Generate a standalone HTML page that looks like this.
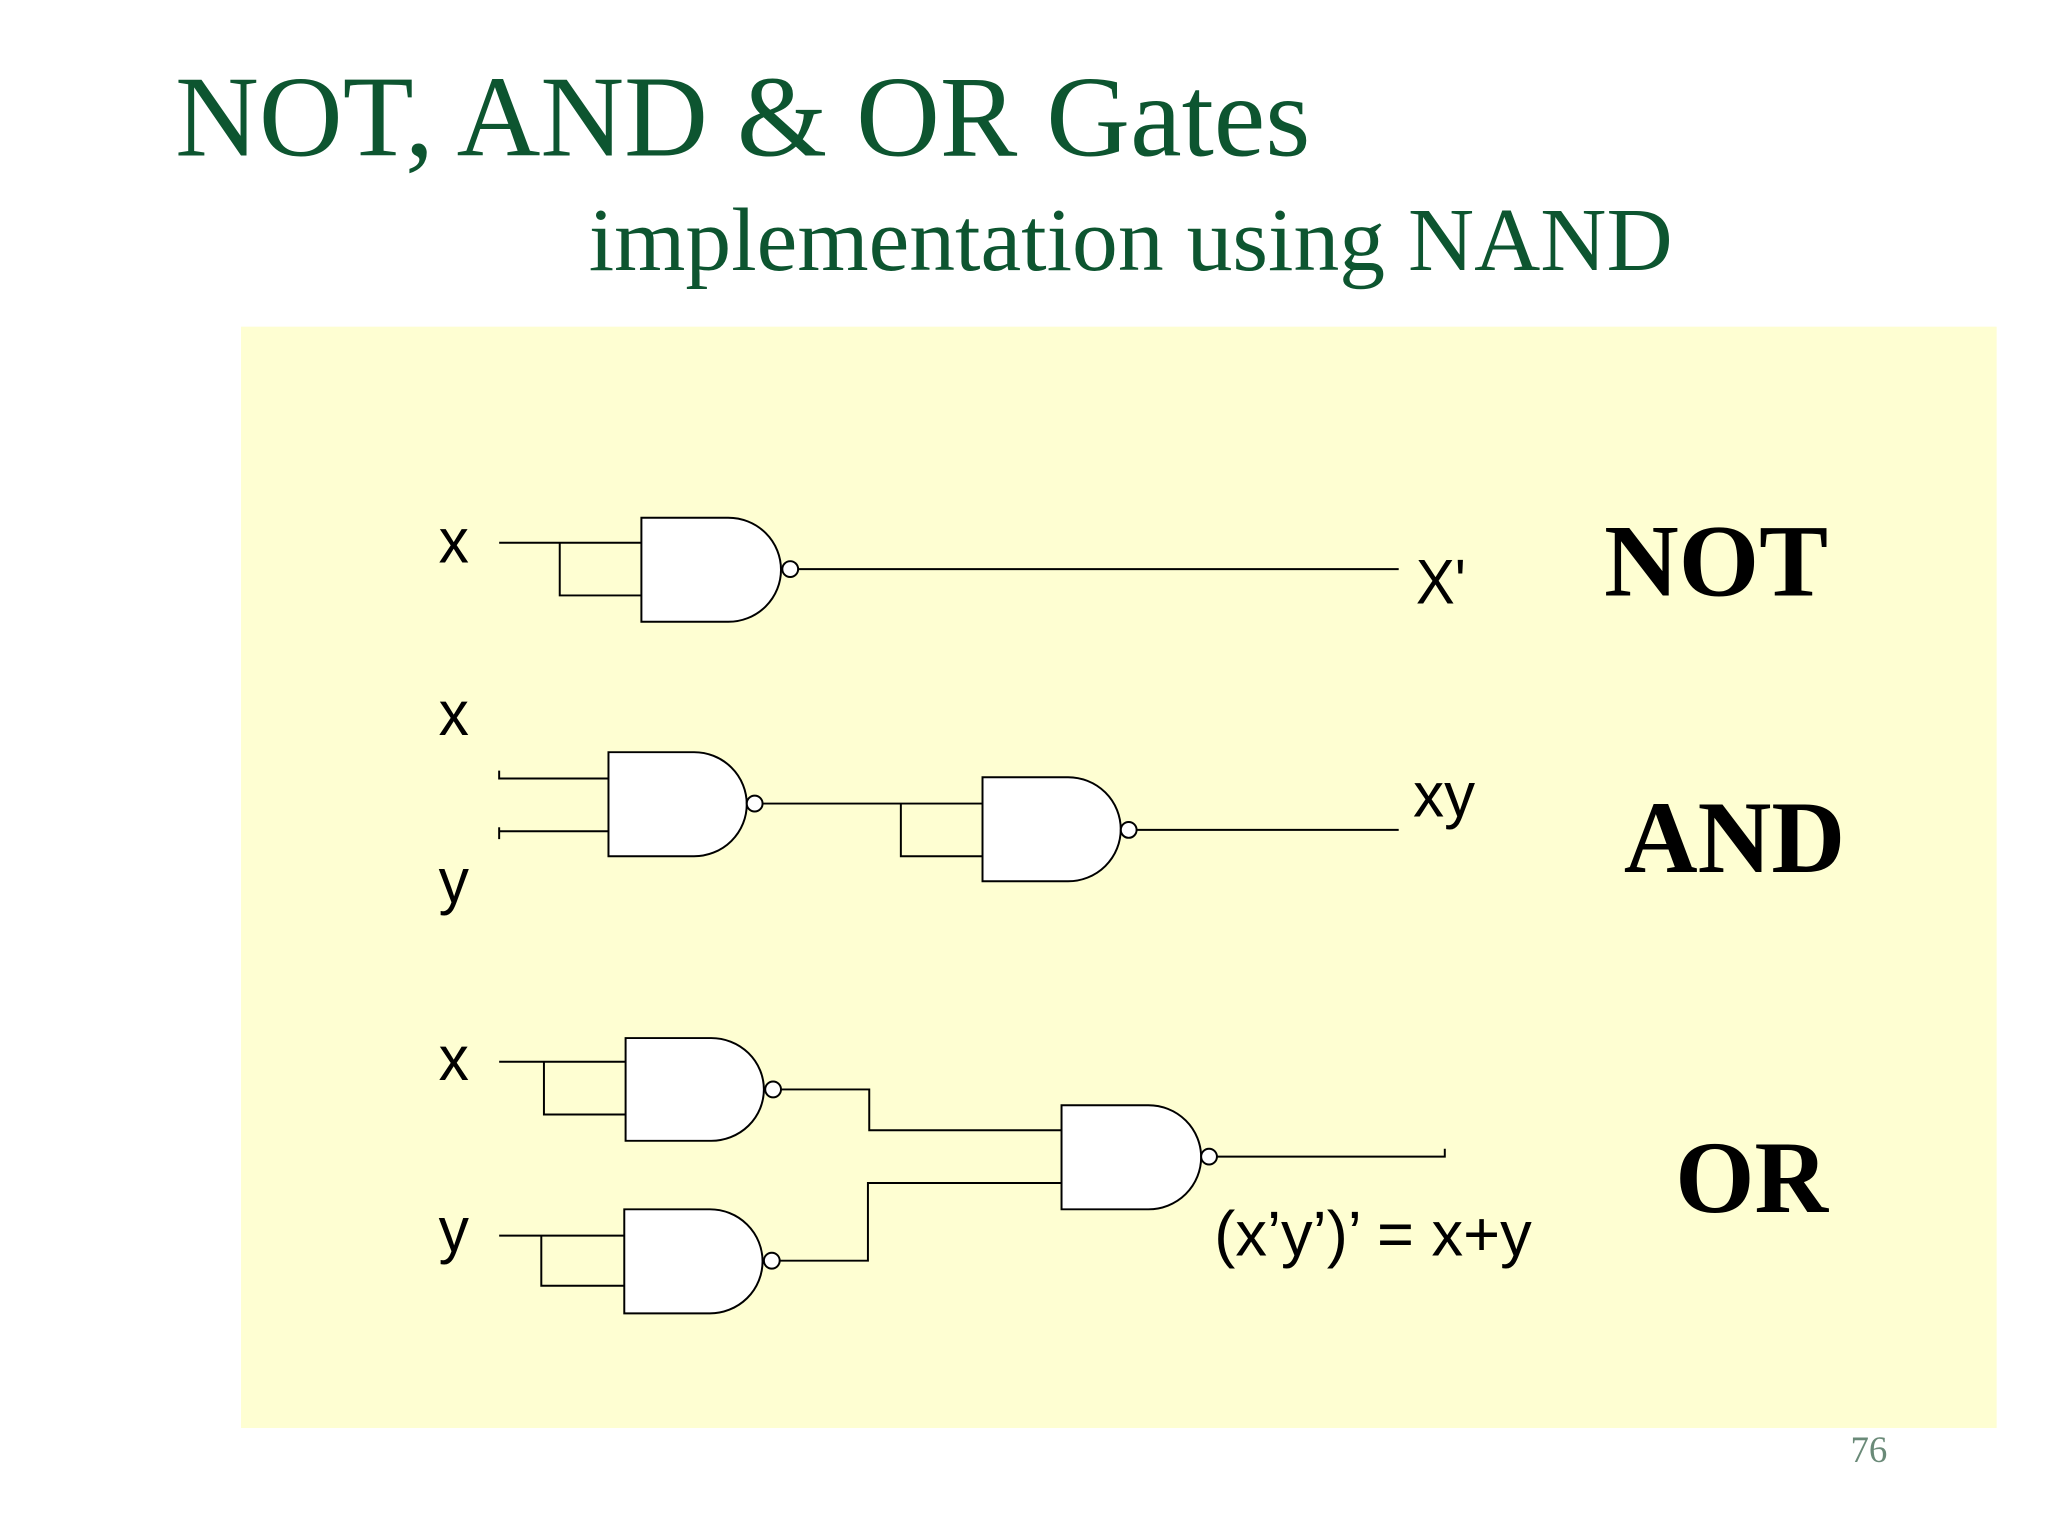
<!DOCTYPE html>
<html><head><meta charset="utf-8"><style>
html,body{margin:0;padding:0;background:#fff;}
svg{display:block;}
</style></head><body>
<svg width="2048" height="1536" viewBox="0 0 1555 1166" preserveAspectRatio="none" xmlns="http://www.w3.org/2000/svg">
<rect x="0" y="0" width="1555" height="1166" fill="#ffffff"/>
<text x="133" y="118" font-family="Liberation Serif, serif" font-size="88" fill="#0d5530" textLength="862" lengthAdjust="spacingAndGlyphs">NOT, AND &amp; OR Gates</text>
<text x="447" y="205" font-family="Liberation Serif, serif" font-size="68" fill="#0d5530" textLength="823" lengthAdjust="spacingAndGlyphs">implementation using NAND</text>
<rect x="183" y="248" width="1333" height="836" fill="#fefed2"/>
<text x="1405" y="1110" font-family="Liberation Serif, serif" font-size="28" fill="#6a8a78">76</text>
<g fill="none" stroke="#000" stroke-width="1.5">
<line x1="379" y1="412" x2="487" y2="412"/>
<polyline points="425,412 425,452 487,452"/>
<path d="M487,393 H553 A40 39.5 0 0 1 553,472 H487 Z" fill="#fff"/>
<circle cx="600" cy="432" r="6" fill="#fff"/>
<line x1="606" y1="432" x2="1062" y2="432"/>
<polyline points="379,585 379,591 462,591"/>
<polyline points="379,628 379,637"/>
<line x1="379" y1="631" x2="462" y2="631"/>
<path d="M462,571 H527 A40 39.5 0 0 1 527,650 H462 Z" fill="#fff"/>
<circle cx="573" cy="610" r="6" fill="#fff"/>
<line x1="579" y1="610" x2="746" y2="610"/>
<polyline points="684,610 684,650 746,650"/>
<path d="M746,590 H811 A40 39.5 0 0 1 811,669 H746 Z" fill="#fff"/>
<circle cx="857" cy="630" r="6" fill="#fff"/>
<line x1="863" y1="630" x2="1062" y2="630"/>
<line x1="379" y1="806" x2="475" y2="806"/>
<polyline points="413,806 413,846 475,846"/>
<path d="M475,788 H540 A40 39 0 0 1 540,866 H475 Z" fill="#fff"/>
<circle cx="587" cy="827" r="6" fill="#fff"/>
<polyline points="593,827 660,827 660,858 806,858"/>
<path d="M474,918 H539 A40 39.5 0 0 1 539,997 H474 Z" fill="#fff"/>
<line x1="379" y1="938" x2="474" y2="938"/>
<polyline points="411,938 411,976 474,976"/>
<circle cx="586" cy="957" r="6" fill="#fff"/>
<polyline points="592,957 659,957 659,898 806,898"/>
<path d="M806,839 H872 A40 39.5 0 0 1 872,918 H806 Z" fill="#fff"/>
<circle cx="918" cy="878" r="6" fill="#fff"/>
<polyline points="924,878 1097,878 1097,872"/>
</g>
<g font-family="Liberation Sans, sans-serif" font-size="48" fill="#000">
<text x="333" y="427" textLength="23" lengthAdjust="spacingAndGlyphs">x</text>
<text x="1075" y="458" textLength="38" lengthAdjust="spacingAndGlyphs">X'</text>
<text x="333" y="558" textLength="23" lengthAdjust="spacingAndGlyphs">x</text>
<text x="333" y="685" textLength="23" lengthAdjust="spacingAndGlyphs">y</text>
<text x="1073" y="620" textLength="47" lengthAdjust="spacingAndGlyphs">xy</text>
<text x="333" y="820" textLength="23" lengthAdjust="spacingAndGlyphs">x</text>
<text x="333" y="950" textLength="23" lengthAdjust="spacingAndGlyphs">y</text>
<text x="922" y="953" textLength="241" lengthAdjust="spacingAndGlyphs">(x’y’)’ = x+y</text>
</g>
<g font-family="Liberation Serif, serif" font-weight="bold" font-size="78" fill="#000">
<text x="1218" y="452" textLength="170" lengthAdjust="spacingAndGlyphs">NOT</text>
<text x="1233" y="662" textLength="168" lengthAdjust="spacingAndGlyphs">AND</text>
<text x="1272" y="920" textLength="116" lengthAdjust="spacingAndGlyphs">OR</text>
</g>
</svg>
</body></html>
